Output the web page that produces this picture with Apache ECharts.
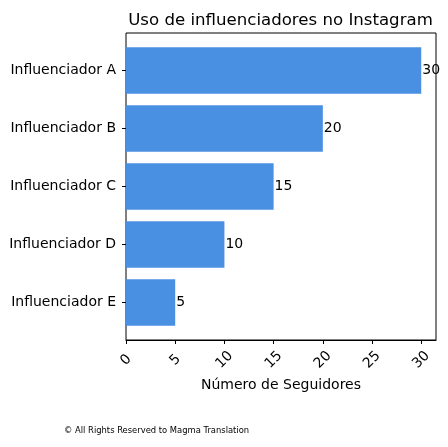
<!DOCTYPE html>
<html>
<head>
<meta charset="utf-8">
<script src="https://cdn.jsdelivr.net/npm/echarts@6/dist/echarts.min.js"></script>
<style>
  html, body { margin: 0; padding: 0; background: #fff; }
  #chart { width: 448px; height: 447px; }
</style>
</head>
<body>
<div id="chart"></div>
<script>
// chart data
const categories = ['Influenciador A', 'Influenciador B', 'Influenciador C', 'Influenciador D', 'Influenciador E'];
const followers = [30, 20, 15, 10, 5];
const xTicks = [0, 5, 10, 15, 20, 25, 30];

const FONT = '"DejaVu Sans", sans-serif';
const chart = echarts.init(document.getElementById('chart'));

const option = {
    animation: false,
    textStyle: { fontFamily: FONT },
    title: {
        text: 'Uso de influenciadores no Instagram',
        left: 275.5,
        top: 7,
        textAlign: 'center',
        textStyle: { fontFamily: FONT, fontSize: 16.6, fontWeight: 'normal', color: '#000' }
    },
    graphic: [{
        type: 'text',
        left: 64,
        top: 427,
        style: { text: '\u00a9 All Rights Reserved to Magma Translation', font: '8.4px "DejaVu Sans"', fill: '#000' }
    }],
    grid: [
        // frame + x axis
        { left: 126, right: 12, top: 33, bottom: 107, show: true, borderColor: '#000', borderWidth: 1, backgroundColor: 'transparent' },
        // bars, inset like matplotlib margins
        { left: 126, right: 12, top: 41.5, height: 290 }
    ],
    xAxis: [{
        gridIndex: 0,
        type: 'value',
        min: 0,
        max: 31.5,
        interval: 5,
        axisLine: { show: true, lineStyle: { color: '#000' } },
        axisTick: { show: true, length: 4, lineStyle: { color: '#000' },
            customValues: xTicks },
        axisLabel: { rotate: 45, align: 'center', verticalAlign: 'middle', color: '#000',
            fontFamily: FONT, fontSize: 14, margin: 20, customValues: xTicks },
        splitLine: { show: false },
        name: 'Número de Seguidores',
        nameLocation: 'middle',
        nameGap: 38,
        nameTextStyle: { fontFamily: FONT, fontSize: 14, color: '#000' }
    }, {
        gridIndex: 1,
        type: 'value',
        min: 0,
        max: 31.5,
        show: false
    }],
    yAxis: [{
        gridIndex: 0,
        type: 'value',
        show: false
    }, {
        gridIndex: 1,
        type: 'category',
        inverse: true,
        data: categories,
        axisLine: { show: false },
        axisTick: { show: true, length: 4, alignWithLabel: true, lineStyle: { color: '#000' } },
        axisLabel: { color: '#000', fontFamily: FONT, fontSize: 14, margin: 10 }
    }],
    series: [{
        type: 'bar',
        xAxisIndex: 1,
        yAxisIndex: 1,
        data: followers,
        barCategoryGap: '20%',
        itemStyle: { color: '#4a90e2' },
        label: {
            show: true,
            position: 'right',
            distance: 1,
            color: '#000',
            fontFamily: FONT,
            fontSize: 14
        }
    }]
};

chart.setOption(option);
</script>
</body>
</html>
